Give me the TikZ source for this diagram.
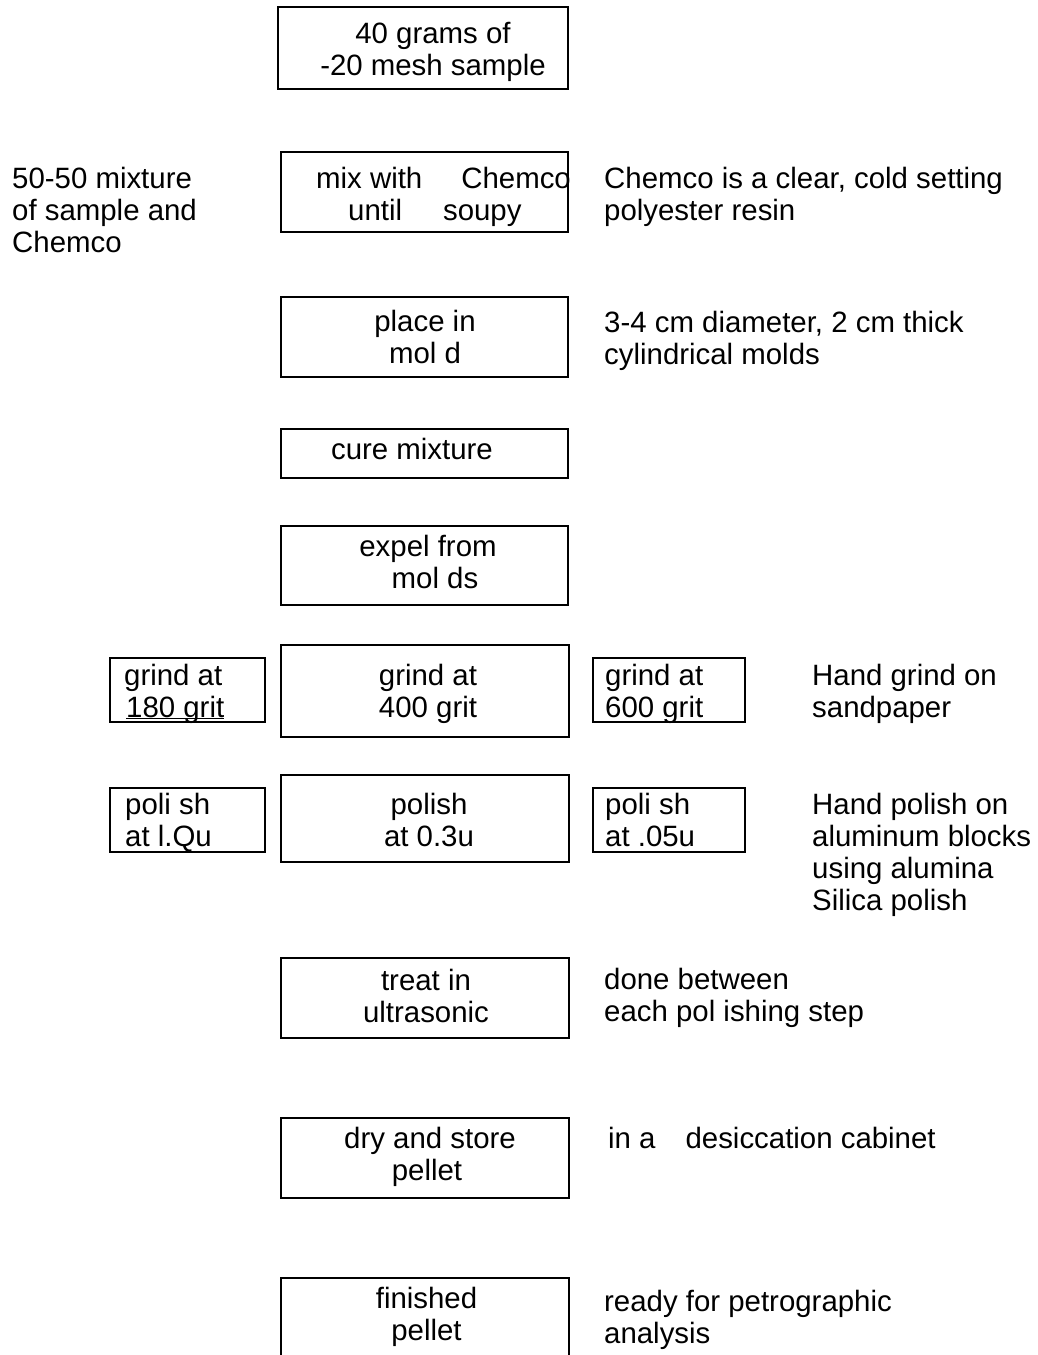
\documentclass[tikz,border=0pt]{standalone}
\usepackage{fontspec}
\setmainfont{Liberation Sans}
\newcommand\fsz{\fontsize{29.4}{32}\selectfont}
\tikzset{
  box/.style={draw, line width=1.3pt, inner sep=0pt, minimum width=287pt},
  txt/.style={inner sep=0pt, font=\fsz, align=left, anchor=north west},
  ctxt/.style={inner sep=0pt, font=\fsz, align=center, anchor=north},
}
\begin{document}
\begin{tikzpicture}[x=1pt,y=-1pt]
\useasboundingbox (0,0) rectangle (1037,1355);
% main column boxes
\node[box, minimum width=290pt, minimum height=82pt] (b1) at (423,48) {};
\node[box, minimum height=80pt] (b2) at (424.5,192) {};
\node[box, minimum height=80pt] (b3) at (424.5,337) {};
\node[box, minimum height=49pt] (b4) at (424.5,453.5) {};
\node[box, minimum height=79pt] (b5) at (424.5,565.5) {};
\node[box, minimum width=155pt, minimum height=64pt] (g1) at (187.5,690) {};
\node[box, minimum width=288pt, minimum height=92pt] (g2) at (425,691) {};
\node[box, minimum width=152pt, minimum height=64pt] (g3) at (669,690) {};
\node[box, minimum width=155pt, minimum height=64pt] (p1) at (187.5,820) {};
\node[box, minimum width=288pt, minimum height=87pt] (p2) at (425,818.5) {};
\node[box, minimum width=152pt, minimum height=64pt] (p3) at (669,820) {};
\node[box, minimum width=288pt, minimum height=80pt] (t) at (425,998) {};
\node[box, minimum width=288pt, minimum height=80pt] (d) at (425,1158) {};
\node[box, minimum width=288pt, minimum height=140pt] (f) at (425,1348) {};
% box texts
\node[ctxt] (b1t) at (433,20.6) {\strut 40 grams of\\-20 mesh sample};
\node[txt] (b2t) at (316,165.6) {\strut mix with\hspace{39pt}Chemco\\\hspace*{32pt}until\hspace{41pt}soupy};
\node[ctxt] (b3t) at (425,308.6) {\strut place in\\mol d};
\node[ctxt] (b4t) at (412,436.6) {\strut cure mixture};
\node[ctxt] (b5t) at (428,533.6) {\strut expel from\\\hspace*{14pt}mol ds};
\node[txt] (g1t) at (124,662.6) {\strut grind at\\\hspace*{2pt}\underline{\smash{180 grit}}};
\node[ctxt] (g2t) at (428,662.6) {\strut grind at\\400 grit};
\node[txt] (g3t) at (605,662.6) {\strut grind at\\600 grit};
\node[txt] (p1t) at (125,791.6) {\strut poli sh\\at l.Qu};
\node[ctxt] (p2t) at (429,791.6) {\strut polish\\at 0.3u};
\node[txt] (p3t) at (605,791.6) {\strut poli sh\\at .05u};
\node[ctxt] (tt) at (426,967.6) {\strut treat in\\ultrasonic};
\node[ctxt] (dt) at (430,1125.6) {\strut dry and store\\\hspace*{-6pt}pellet};
\node[ctxt] (ft) at (426.5,1285.6) {\strut finished\\pellet};
% annotations
\node[txt] (n1) at (12,165.6) {\strut 50-50 mixture\\of sample and\\Chemco};
\node[txt] (n2) at (604,165.6) {\strut Chemco is a clear, cold setting\\polyester resin};
\node[txt] (n3) at (604,309.6) {\strut 3-4 cm diameter, 2 cm thick\\cylindrical molds};
\node[txt] (n4) at (812,662.6) {\strut Hand grind on\\sandpaper};
\node[txt] (n5) at (812,791.6) {\strut Hand polish on\\aluminum blocks\\using alumina\\Silica polish};
\node[txt] (n6) at (604,966.6) {\strut done between\\each pol ishing step};
\node[txt] (n7) at (608,1125.6) {\strut in a\hspace{30pt}desiccation cabinet};
\node[txt] (n8) at (604,1288.6) {\strut ready for petrographic\\analysis};
\end{tikzpicture}
\end{document}
